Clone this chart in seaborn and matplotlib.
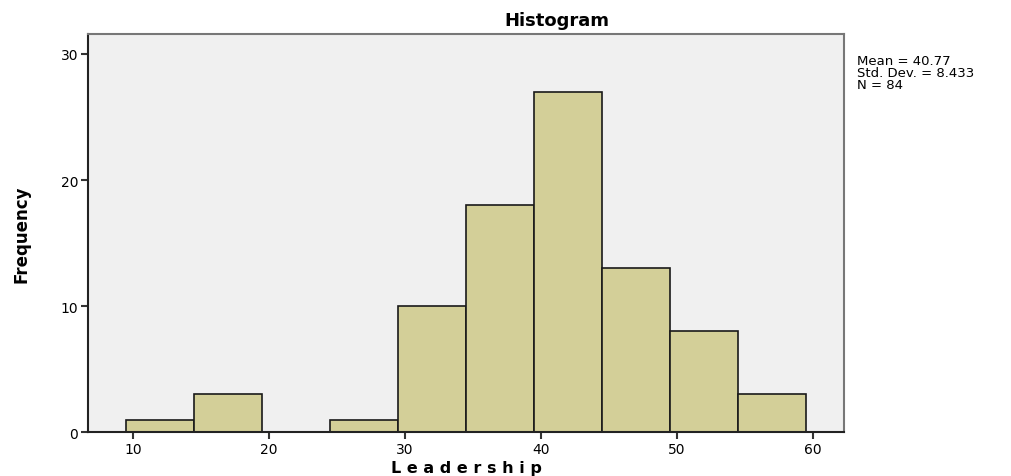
import numpy as np
import pandas as pd
import matplotlib.pyplot as plt
import seaborn as sns

# Leadership histogram (SPSS style)
bin_edges = [9.5, 14.5, 19.5, 24.5, 29.5, 34.5, 39.5, 44.5, 49.5, 54.5, 59.5]
counts = [1, 3, 0, 1, 10, 18, 27, 13, 8, 3]
x_ticks = [10, 20, 30, 40, 50, 60]
y_ticks = [0, 10, 20, 30]
stats_text = "Mean = 40.77\nStd. Dev. = 8.433\nN = 84"

centers = [(a + b) / 2 for a, b in zip(bin_edges[:-1], bin_edges[1:])]
df = pd.DataFrame({"Leadership": centers, "count": counts})

sns.set_style("white")
plt.rcParams["font.family"] = ["DejaVu Sans"]
plt.rcParams["text.color"] = "black"
plt.rcParams["xtick.color"] = "black"
plt.rcParams["ytick.color"] = "black"

fig = plt.figure(figsize=(10.11, 4.77), dpi=100)
ax = fig.add_axes([0.087, 0.092, 0.748, 0.835])
ax.set_facecolor("#f0f0f0")

sns.histplot(data=df, x="Leadership", weights="count", bins=bin_edges,
             color="#d3cf98", edgecolor="#1a1a1a", linewidth=1.2, alpha=1, ax=ax)

ax.set_xlim(6.7, 62.3)
ax.set_ylim(0, 31.6)
ax.set_xticks(x_ticks)
ax.set_yticks(y_ticks)
ax.tick_params(axis="both", direction="out", length=5, width=1.5, color="#333333",
               labelsize=10, pad=2, bottom=True, left=True)

for side in ["left", "bottom"]:
    ax.spines[side].set_color("#222222")
    ax.spines[side].set_linewidth(1.5)
for side in ["top", "right"]:
    ax.spines[side].set_color("#777777")
    ax.spines[side].set_linewidth(1.5)

# title sits right of the axes centre, as in the SPSS output
fig.text(0.551, 0.955, "Histogram", fontsize=13, fontweight="bold",
         ha="center", va="center")
ax.set_xlabel("L e a d e r s h i p", fontsize=11.5, fontweight="bold", color="black",
              va="center")
ax.xaxis.set_label_coords(0.5, -0.088)
ax.set_ylabel("Frequency", fontsize=12, fontweight="bold", color="black",
              va="center")
ax.yaxis.set_label_coords(-0.088, 0.5)

fig.text(0.848, 0.885, stats_text, fontsize=9.5, va="top", ha="left",
         linespacing=0.9)

fig.savefig("out.png", dpi=100)
